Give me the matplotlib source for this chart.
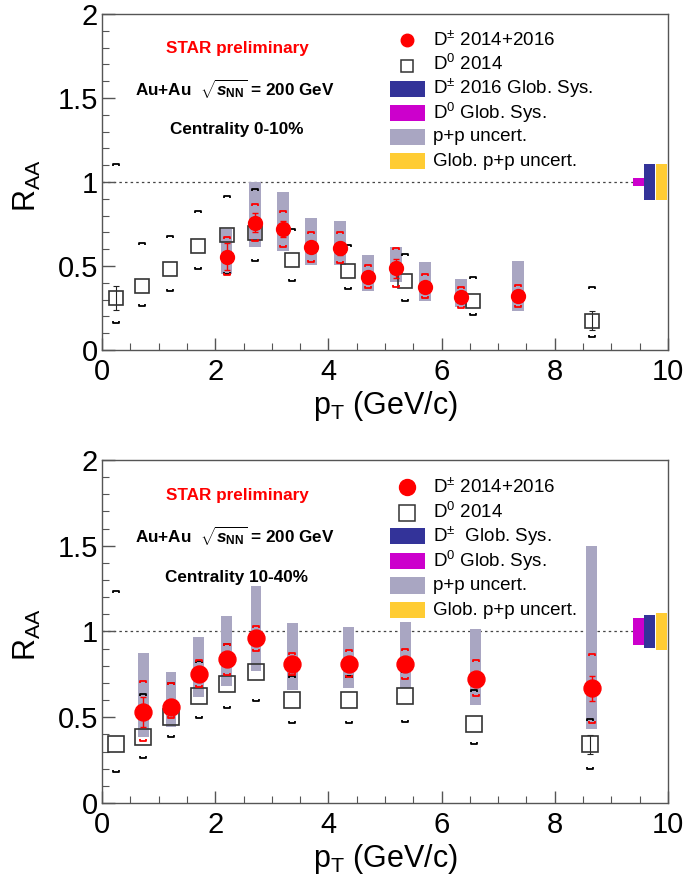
import numpy as np
import matplotlib
matplotlib.use("Agg")
import matplotlib.pyplot as plt
from matplotlib.path import Path
from matplotlib.patches import Rectangle
from matplotlib.ticker import MultipleLocator

plt.rcParams['font.family'] = ['Liberation Sans', 'DejaVu Sans']
plt.rcParams['mathtext.fontset'] = 'custom'
plt.rcParams['mathtext.rm'] = 'Liberation Sans'
plt.rcParams['mathtext.it'] = 'Liberation Sans:italic:bold'
plt.rcParams['mathtext.bf'] = 'Liberation Sans:bold'

# ---------------- data: top panel (0-10%) ----------------
top_dpm_pt = [2.2, 2.7, 3.2, 3.7, 4.2, 4.7, 5.2, 5.7, 6.35, 7.35]
top_dpm_raa = [0.556, 0.758, 0.72, 0.611, 0.605, 0.433, 0.486, 0.377, 0.314, 0.323]
top_dpm_stat = [0.08, 0.055, 0.045, 0.03, 0.04, 0.03, 0.055, 0.025, 0.02, 0.03]
top_dpm_sys_hi = [0.671, 0.867, 0.827, 0.70, 0.70, 0.506, 0.609, 0.452, 0.377, 0.387]
top_dpm_sys_lo = [0.446, 0.651, 0.615, 0.526, 0.516, 0.367, 0.377, 0.308, 0.252, 0.258]
top_pp_hi = [0.72, 0.998, 0.942, 0.784, 0.77, 0.565, 0.615, 0.526, 0.421, 0.53]
top_pp_lo = [0.452, 0.611, 0.589, 0.504, 0.504, 0.351, 0.403, 0.293, 0.256, 0.234]

top_d0_pt = [0.25, 0.7, 1.2, 1.7, 2.2, 2.7, 3.35, 4.35, 5.35, 6.55, 8.65]
top_d0_raa = [0.31, 0.381, 0.48, 0.619, 0.684, 0.698, 0.534, 0.468, 0.41, 0.293, 0.175]
top_d0_stat = [0.07, 0.02, 0.02, 0.02, 0.02, 0.02, 0.02, 0.02, 0.02, 0.02, 0.057]
top_d0_sys_hi = [1.107, 0.635, 0.679, 0.83, 0.917, 0.958, 0.722, 0.625, 0.57, 0.437, 0.377]
top_d0_sys_lo = [0.159, 0.264, 0.353, 0.48, 0.45, 0.53, 0.41, 0.363, 0.293, 0.208, 0.079]

top_glob_d0 = 0.026
top_glob_dpm = 0.109
top_glob_pp = 0.105

# ---------------- data: bottom panel (10-40%) ----------------
bot_dpm_pt = [0.73, 1.22, 1.71, 2.2, 2.72, 3.36, 4.36, 5.36, 6.6, 8.65]
bot_dpm_raa = [0.532, 0.562, 0.75, 0.838, 0.96, 0.809, 0.809, 0.809, 0.723, 0.669]
bot_dpm_stat = [0.088, 0.03, 0.03, 0.03, 0.03, 0.03, 0.03, 0.03, 0.03, 0.073]
bot_dpm_sys_hi = [0.711, 0.70, 0.834, 0.925, 1.034, 0.876, 0.892, 0.898, 0.834, 0.867]
bot_dpm_sys_lo = [0.363, 0.494, 0.675, 0.746, 0.888, 0.746, 0.733, 0.723, 0.624, 0.468]
bot_pp_hi = [0.876, 0.762, 0.966, 1.09, 1.265, 1.051, 1.028, 1.057, 1.013, 1.50]
bot_pp_lo = [0.387, 0.445, 0.62, 0.682, 0.772, 0.659, 0.669, 0.669, 0.571, 0.431]

bot_d0_pt = [0.24, 0.73, 1.22, 1.71, 2.2, 2.72, 3.36, 4.36, 5.36, 6.58, 8.62]
bot_d0_raa = [0.344, 0.383, 0.503, 0.624, 0.694, 0.762, 0.60, 0.60, 0.624, 0.459, 0.342]
bot_d0_stat = [0.02, 0.02, 0.02, 0.02, 0.02, 0.02, 0.02, 0.02, 0.02, 0.02, 0.055]
bot_d0_sys_hi = [1.238, 0.634, 0.698, 0.83, 0.925, 0.93, 0.74, 0.74, 0.77, 0.659, 0.49]
bot_d0_sys_lo = [0.179, 0.264, 0.387, 0.498, 0.552, 0.595, 0.465, 0.465, 0.47, 0.342, 0.196]

bot_glob_d0 = 0.076
bot_glob_dpm = 0.097
bot_glob_pp = 0.107

x_ticks = [0, 2, 4, 6, 8, 10]
y_ticks = [0, 0.5, 1, 1.5, 2]
y_ticklabels = ['0', '0.5', '1', '1.5', '2']

# ---------------- styles ----------------
RED = '#ff0000'
PP = '#a9a6c2'
NAVY = '#333399'
MAG = '#cc00cc'
YEL = '#ffcc33'

cap_top = Path([(-1, -0.8), (-1, 0), (1, 0), (1, -0.8)],
               [Path.MOVETO, Path.LINETO, Path.LINETO, Path.LINETO])
cap_bot = Path([(-1, 0.8), (-1, 0), (1, 0), (1, 0.8)],
               [Path.MOVETO, Path.LINETO, Path.LINETO, Path.LINETO])


def panel(ax, dpm_pt, dpm_raa, dpm_stat, dpm_hi, dpm_lo, pp_hi, pp_lo,
          d0_pt, d0_raa, d0_stat, d0_hi, d0_lo, g_d0, g_dpm, g_pp,
          centr, dpm_glob_label, ms_c, ms_s, lms_c, lms_s, boxw):
    ax.set_xlim(0, 10)
    ax.set_ylim(0, 2)
    # reference line
    ax.hlines(1, 0, 9.38, colors='#444444', linestyles=(0, (2, 2.5)), lw=0.9, zorder=1)
    # p+p uncertainty boxes
    pp_lo_a = np.array(pp_lo)
    pp_hi_a = np.array(pp_hi)
    ax.bar(dpm_pt, pp_hi_a - pp_lo_a, bottom=pp_lo_a, width=boxw, color=PP,
           edgecolor='none', zorder=2)
    # global uncertainty boxes
    ax.bar([9.38], [2 * g_d0], bottom=[1 - g_d0], width=0.2, align='edge',
           color=MAG, edgecolor='none', zorder=2)
    ax.bar([9.58], [2 * g_dpm], bottom=[1 - g_dpm], width=0.19, align='edge',
           color=NAVY, edgecolor='none', zorder=2)
    ax.bar([9.78], [2 * g_pp], bottom=[1 - g_pp], width=0.21, align='edge',
           color=YEL, edgecolor='none', zorder=2)
    # D0 points (stat bars only visible where they stick out of the marker)
    half_marker = ms_s / 72 * 100 / 2 / (ax.bbox.height) * 2.0
    show = np.array(d0_stat) > half_marker
    ax.errorbar(d0_pt, d0_raa, yerr=d0_stat, fmt='none', ecolor='#222222',
                elinewidth=0.8, capsize=2, capthick=0.8, errorevery=show, zorder=3)
    ax.plot(d0_pt, d0_raa, linestyle='none', marker='s', ms=ms_s, mfc='none',
            mec='#333333', mew=1.2, zorder=4)
    ax.plot(d0_pt, d0_hi, linestyle='none', marker=cap_top, ms=4, mfc='none',
            mec='black', mew=1.3, zorder=4)
    ax.plot(d0_pt, d0_lo, linestyle='none', marker=cap_bot, ms=4, mfc='none',
            mec='black', mew=1.3, zorder=4)
    # D+- points
    ax.plot(dpm_pt, dpm_hi, linestyle='none', marker=cap_top, ms=4, mfc='none',
            mec=RED, mew=1.3, zorder=5)
    ax.plot(dpm_pt, dpm_lo, linestyle='none', marker=cap_bot, ms=4, mfc='none',
            mec=RED, mew=1.3, zorder=5)
    ax.errorbar(dpm_pt, dpm_raa, yerr=dpm_stat, fmt='none', ecolor=RED,
                elinewidth=1.0, capsize=2, capthick=1.0, zorder=5)
    ax.plot(dpm_pt, dpm_raa, linestyle='none', marker='o', ms=ms_c, mfc=RED,
            mec=RED, zorder=6)

    # axes style
    for s in ax.spines.values():
        s.set_color('#555555')
        s.set_linewidth(1.0)
    ax.set_xticks(x_ticks)
    ax.set_yticks(y_ticks)
    ax.set_yticklabels(y_ticklabels)
    ax.xaxis.set_minor_locator(MultipleLocator(0.5))
    ax.yaxis.set_minor_locator(MultipleLocator(0.1))
    ax.tick_params(which='both', direction='in', top=False, right=False,
                   color='#555555', labelsize=21)
    ax.tick_params(which='major', length=9, width=1)
    ax.tick_params(which='minor', length=5, width=0.8)
    ax.tick_params(axis='x', which='major', pad=6)
    ax.tick_params(axis='y', which='major', pad=3)
    ax.set_xlabel('p$_{\\rm T}$ (GeV/c)', fontsize=22)
    ax.set_ylabel('R$_{\\rm AA}$', fontsize=22)
    ax.xaxis.set_label_coords(0.5, -0.115)
    ax.yaxis.set_label_coords(-0.105, 0.49)

    # texts
    ax.text(0.2385, 0.896, 'STAR preliminary', color=RED, fontsize=12.3,
            fontweight='bold', ha='center', va='center', transform=ax.transAxes)
    ax.text(0.235, 0.776, 'Au+Au  $\\sqrt{s_{\\mathbf{NN}}}$ = 200 GeV', fontsize=12.3,
            fontweight='bold', ha='center', va='center', transform=ax.transAxes)
    ax.text(0.2385, 0.657, centr, fontsize=12.3, fontweight='bold', ha='center',
            va='center', transform=ax.transAxes)

    # legend (manual)
    ys = [0.922, 0.850, 0.778, 0.706, 0.634, 0.562]
    labels = ['D$^{\\pm}$ 2014+2016', 'D$^{0}$ 2014', dpm_glob_label,
              'D$^{0}$ Glob. Sys.', 'p+p uncert.', 'Glob. p+p uncert.']
    hx0, hx1 = 0.508, 0.571
    hcx = 0.5395
    ax.plot([hcx], [ys[0]], marker='o', ms=lms_c, color=RED, linestyle='none',
            transform=ax.transAxes)
    ax.plot([hcx], [ys[1] - 0.005], marker='s', ms=lms_s, mfc='none', mec='#333333',
            mew=1.1, linestyle='none', transform=ax.transAxes)
    for yy, c in zip(ys[2:], [NAVY, MAG, PP, YEL]):
        ax.add_patch(Rectangle((hx0, yy - 0.024), hx1 - hx0, 0.048, color=c,
                               transform=ax.transAxes, lw=0))
    for yy, lab in zip(ys, labels):
        ax.text(0.584, yy, lab, fontsize=13.5, ha='left', va='center',
                transform=ax.transAxes)


fig = plt.figure(figsize=(6.87, 8.86), dpi=100)
ax1 = fig.add_axes([0.1485, 0.605, 0.8238, 0.3792])
ax2 = fig.add_axes([0.1485, 0.0937, 0.8238, 0.3871])

panel(ax1, top_dpm_pt, top_dpm_raa, top_dpm_stat, top_dpm_sys_hi, top_dpm_sys_lo,
      top_pp_hi, top_pp_lo, top_d0_pt, top_d0_raa, top_d0_stat, top_d0_sys_hi,
      top_d0_sys_lo, top_glob_d0, top_glob_dpm, top_glob_pp,
      'Centrality 0-10%', 'D$^{\\pm}$ 2016 Glob. Sys.',
      ms_c=10, ms_s=9.8, lms_c=9, lms_s=8.8, boxw=0.21)
panel(ax2, bot_dpm_pt, bot_dpm_raa, bot_dpm_stat, bot_dpm_sys_hi, bot_dpm_sys_lo,
      bot_pp_hi, bot_pp_lo, bot_d0_pt, bot_d0_raa, bot_d0_stat, bot_d0_sys_hi,
      bot_d0_sys_lo, bot_glob_d0, bot_glob_dpm, bot_glob_pp,
      'Centrality 10-40%', 'D$^{\\pm}$  Glob. Sys.',
      ms_c=12.2, ms_s=12, lms_c=11.5, lms_s=11, boxw=0.19)

fig.savefig('out.png', dpi=100)
